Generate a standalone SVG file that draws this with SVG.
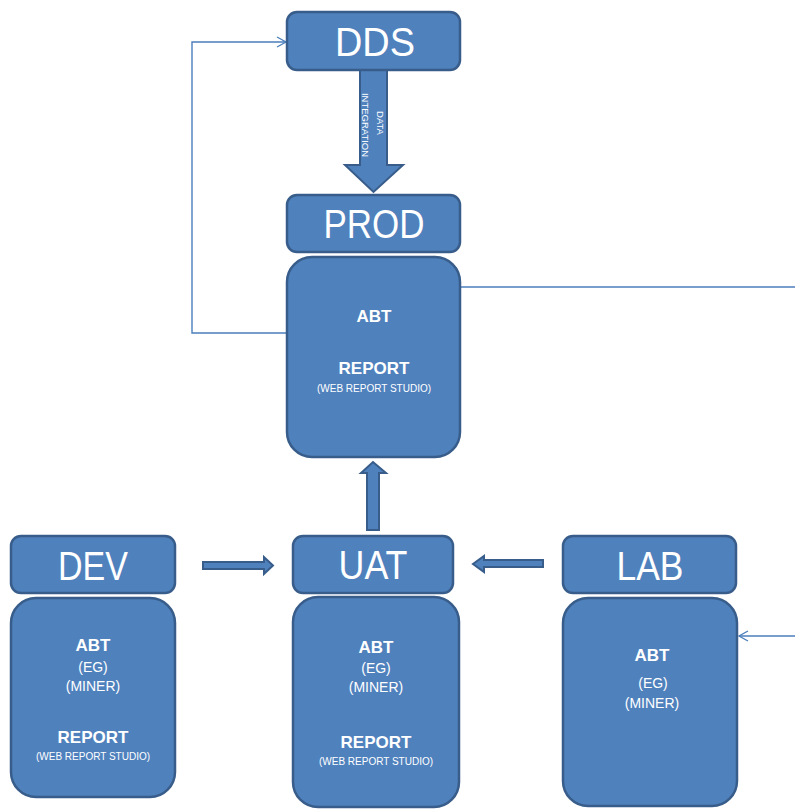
<svg xmlns="http://www.w3.org/2000/svg" width="795" height="809" viewBox="0 0 795 809">
<defs>
<style>
.box{fill:#4f81bd;stroke:#385d8a;stroke-width:2.5}
.blk{fill:#4f81bd;stroke:#385d8a;stroke-width:2}
.ln{fill:none;stroke:#4a7ebb;stroke-width:1.4}
.h{fill:#fff;font-family:"Liberation Sans",Arial,sans-serif;font-size:40px;text-anchor:middle}
.b{fill:#fff;font-family:"Liberation Sans",Arial,sans-serif;font-size:17px;font-weight:bold;text-anchor:middle}
.m{fill:#fff;font-family:"Liberation Sans",Arial,sans-serif;font-size:14px;text-anchor:middle}
.s{fill:#fff;font-family:"Liberation Sans",Arial,sans-serif;font-size:10px;text-anchor:middle}
.r{fill:#fff;font-family:"Liberation Sans",Arial,sans-serif;font-size:9.5px;text-anchor:middle}
</style>
<marker id="oa" markerWidth="12" markerHeight="12" refX="10" refY="6" orient="auto" markerUnits="userSpaceOnUse">
<path d="M1,1 L10,6 L1,11" fill="none" stroke="#4a7ebb" stroke-width="1.3"/>
</marker>
</defs>
<g id="connectors">
<path class="ln" d="M287,333 H192 V42 H286" marker-end="url(#oa)"/>
<path class="ln" d="M460,287 H795"/>
<path class="ln" d="M795,636 H739" marker-end="url(#oa)"/>
<polygon class="blk" points="360,70 387,70 387,165 403,165 373.5,192 345,165 360,165"/>
<polygon class="blk" points="367,530 379,530 379,473 386,473 373,462 361,473 367,473"/>
<polygon class="blk" points="203,562 264,562 264,557 273,565.5 264,574 264,569 203,569"/>
<polygon class="blk" points="543,560 484,560 484,556 473,564 484,572 484,567 543,567"/>
<text class="r" transform="translate(377,123) rotate(90)">DATA</text>
<text class="r" transform="translate(362,125) rotate(90)">INTEGRATION</text>
</g>
<g id="dds">
<rect class="box" x="287" y="12" width="173" height="58" rx="10"/>
<text class="h" x="375" y="56" textLength="80" lengthAdjust="spacingAndGlyphs">DDS</text>
</g>
<g id="prod">
<rect class="box" x="287" y="195" width="173" height="57" rx="10"/>
<text class="h" x="374" y="238" textLength="101" lengthAdjust="spacingAndGlyphs">PROD</text>
</g>
<g id="prod-body">
<rect class="box" x="287" y="257" width="173" height="200" rx="25"/>
<text class="b" x="374" y="322">ABT</text>
<text class="b" x="374" y="374">REPORT</text>
<text class="s" x="374" y="391.5">(WEB REPORT STUDIO)</text>
</g>
<g id="dev">
<rect class="box" x="11" y="536" width="164" height="57" rx="10"/>
<text class="h" x="93" y="580" textLength="70" lengthAdjust="spacingAndGlyphs">DEV</text>
</g>
<g id="dev-body">
<rect class="box" x="11" y="598" width="164" height="199" rx="25"/>
<text class="b" x="93" y="651">ABT</text>
<text class="m" x="93" y="672">(EG)</text>
<text class="m" x="93" y="691">(MINER)</text>
<text class="b" x="93" y="743">REPORT</text>
<text class="s" x="93" y="760">(WEB REPORT STUDIO)</text>
</g>
<g id="uat">
<rect class="box" x="293" y="536" width="160" height="57" rx="10"/>
<text class="h" x="373" y="579" textLength="69" lengthAdjust="spacingAndGlyphs">UAT</text>
</g>
<g id="uat-body">
<rect class="box" x="293" y="597" width="166" height="210" rx="25"/>
<text class="b" x="376" y="653">ABT</text>
<text class="m" x="376" y="673">(EG)</text>
<text class="m" x="376" y="692">(MINER)</text>
<text class="b" x="376" y="748">REPORT</text>
<text class="s" x="376" y="765">(WEB REPORT STUDIO)</text>
</g>
<g id="lab">
<rect class="box" x="563" y="536" width="173" height="57" rx="10"/>
<text class="h" x="650" y="580" textLength="67" lengthAdjust="spacingAndGlyphs">LAB</text>
</g>
<g id="lab-body">
<rect class="box" x="563" y="598" width="174" height="208" rx="25"/>
<text class="b" x="652" y="661">ABT</text>
<text class="m" x="653" y="688">(EG)</text>
<text class="m" x="652" y="708">(MINER)</text>
</g>
</svg>
